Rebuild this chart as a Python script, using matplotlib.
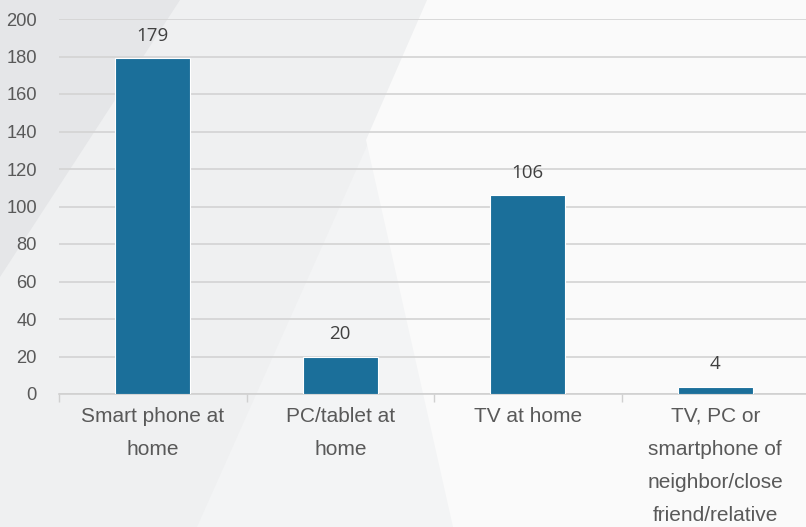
import numpy as np
import matplotlib.pyplot as plt
from matplotlib.patches import Polygon

# Access channels and number of respondents
categories = ["Smart phone at\nhome", "PC/tablet at\nhome", "TV at home",
              "TV, PC or\nsmartphone of\nneighbor/close\nfriend/relative"]
counts = [179, 20, 106, 4]
yticks = [0, 20, 40, 60, 80, 100, 120, 140, 160, 180, 200]

W, H = 806, 527
fig = plt.figure(figsize=(W / 100, H / 100), dpi=100)
fig.patch.set_facecolor('#eff0f1')

# soft geometric background panels (pixel coords from the top-left)
def panel(pts, color):
    xy = [(x / W, 1 - y / H) for x, y in pts]
    fig.patches.append(Polygon(xy, closed=True, transform=fig.transFigure,
                               facecolor=color, edgecolor='none', zorder=-10))

panel([(0, 0), (180, 0), (0, 277)], '#e5e6e8')
panel([(197, 527), (432, 0), (806, 0), (806, 527)], '#f3f4f5')
panel([(427, 0), (806, 0), (806, 527), (453, 527), (366, 140)], '#fafafa')

ax = fig.add_axes([59 / W, 1 - 394 / H, 750 / W, 375 / H])
ax.set_facecolor('none')
ax.set_zorder(1)

x = np.arange(len(categories))
bars = ax.bar(x, counts, width=0.4, color='#1b6f9a', edgecolor='white',
              linewidth=0.8, zorder=3)

for xi, v in zip(x, counts):
    ax.annotate(str(v), (xi, v), xytext=(0, 16), textcoords='offset points',
                ha='center', va='center', fontsize=13.5, color='#404040',
                family='Open Sans')

ax.set_xlim(-0.5, len(categories) - 0.5)
ax.set_ylim(0, 200)
ax.set_yticks(yticks)
ax.yaxis.grid(True, color='#d3d3d3', linewidth=1.2, zorder=0)
ax.set_axisbelow(True)

for s in ['top', 'right', 'left']:
    ax.spines[s].set_visible(False)
ax.spines['bottom'].set_color('#d0d0d0')
ax.spines['bottom'].set_linewidth(1.2)

ax.tick_params(axis='y', length=0, pad=16, labelsize=13.2, labelcolor='#595959')
ax.set_yticklabels([str(t) for t in yticks], family='Liberation Sans')

# category labels centred in each slot, tick marks on the slot borders
ax.set_xticks(x)
ax.set_xticklabels(categories, family='Liberation Sans', fontsize=15,
                   color='#595959', linespacing=1.95, va='top')
ax.tick_params(axis='x', which='major', length=0, pad=9)
ax.set_xticks(np.arange(-0.5, len(categories)), minor=True)
ax.tick_params(axis='x', which='minor', length=6, width=1, color='#d0d0d0')

fig.savefig('out.png', dpi=100, facecolor=fig.get_facecolor())
